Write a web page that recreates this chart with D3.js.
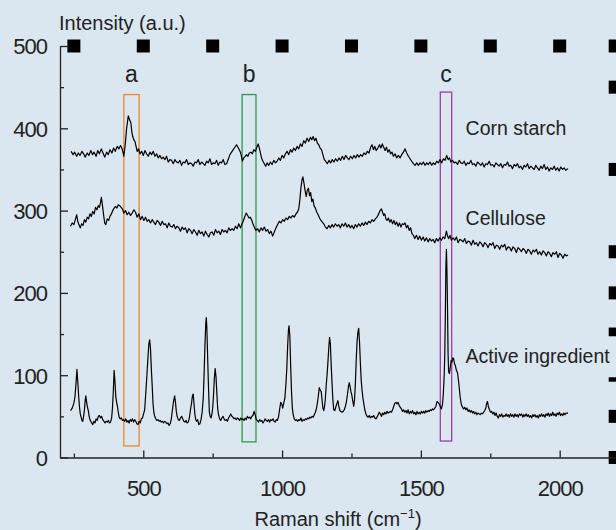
<!DOCTYPE html>
<html>
<head>
<meta charset="utf-8">
<script src="https://cdn.jsdelivr.net/npm/d3@7"></script>
<style>
  html, body { margin: 0; padding: 0; background: #dae6f0; }
  svg { display: block; }
</style>
</head>
<body>
<script>
// Raman spectra, [shift cm-1, intensity a.u.]
var cornStarch = [[240,372],[247,368],[253,371],[260,366],[266,370],[272,367],[279,372],[285,369],[291,365],[298,370],[304,367],[311,373],[317,368],[323,371],[330,366],[336,373],[342,369],[349,375],[355,370],[361,365],[368,371],[374,368],[380,374],[387,370],[393,376],[399,372],[406,378],[412,375],[418,379],[424,375],[430,366],[435,380],[440,400],[446,415],[451,410],[455,407],[459,395],[462,390],[466,386],[470,384],[474,378],[478,372],[483,375],[488,369],[494,372],[500,367],[506,373],[512,369],[518,366],[524,371],[530,368],[536,372],[542,366],[548,369],[554,364],[560,367],[566,363],[572,365],[578,362],[584,366],[590,359],[596,362],[602,361],[608,357],[614,362],[620,359],[626,358],[632,361],[638,355],[644,359],[650,358],[656,362],[662,356],[668,358],[674,357],[680,354],[686,359],[692,358],[698,362],[704,356],[710,359],[716,357],[722,355],[728,360],[734,358],[740,363],[746,356],[752,358],[758,357],[764,361],[770,355],[776,359],[782,358],[788,362],[794,356],[800,357],[806,362],[812,368],[818,371],[824,374],[830,377],[836,380],[841,377],[846,374],[851,370],[857,360],[862,364],[867,366],[872,368],[877,366],[882,370],[888,371],[893,369],[898,374],[904,372],[909,377],[914,381],[918,376],[922,370],[926,364],[931,360],[936,357],[941,354],[946,358],[952,355],[958,359],[964,356],[970,361],[976,358],[982,360],[988,364],[994,361],[1000,367],[1006,364],[1012,369],[1018,372],[1024,368],[1030,374],[1036,371],[1042,376],[1048,373],[1054,378],[1060,375],[1066,381],[1072,378],[1078,385],[1084,382],[1090,388],[1096,384],[1102,389],[1107,386],[1112,390],[1117,385],[1122,388],[1127,382],[1132,380],[1137,376],[1142,374],[1147,368],[1152,362],[1157,360],[1163,357],[1169,361],[1175,358],[1181,362],[1187,359],[1193,363],[1199,360],[1205,364],[1211,361],[1217,366],[1223,362],[1229,367],[1235,364],[1241,362],[1247,366],[1253,363],[1259,367],[1265,364],[1271,368],[1277,365],[1283,368],[1289,366],[1295,370],[1301,368],[1307,372],[1313,370],[1319,377],[1324,380],[1329,374],[1334,378],[1339,373],[1345,376],[1351,380],[1356,376],[1361,381],[1366,377],[1371,373],[1376,377],[1381,371],[1386,374],[1391,369],[1396,371],[1401,366],[1407,369],[1413,364],[1419,367],[1425,364],[1431,368],[1437,371],[1443,375],[1449,370],[1455,366],[1461,363],[1467,360],[1473,357],[1479,355],[1485,358],[1491,355],[1497,358],[1503,356],[1509,359],[1515,355],[1521,358],[1527,356],[1533,359],[1539,355],[1545,358],[1551,356],[1557,360],[1563,358],[1569,362],[1575,358],[1581,363],[1587,361],[1593,367],[1598,362],[1603,364],[1608,359],[1614,361],[1620,358],[1626,359],[1632,356],[1638,361],[1644,358],[1650,357],[1656,360],[1662,355],[1668,358],[1674,357],[1680,361],[1686,356],[1692,357],[1698,354],[1704,359],[1710,357],[1716,355],[1722,358],[1728,353],[1734,357],[1740,356],[1746,360],[1752,355],[1758,356],[1764,353],[1770,358],[1776,356],[1782,354],[1788,357],[1794,352],[1800,356],[1806,355],[1812,359],[1818,354],[1824,355],[1830,351],[1836,356],[1842,354],[1848,357],[1854,352],[1860,354],[1866,350],[1872,355],[1878,353],[1884,357],[1890,351],[1896,354],[1902,352],[1908,350],[1914,355],[1920,352],[1926,349],[1932,354],[1938,351],[1944,356],[1950,350],[1956,353],[1962,348],[1968,352],[1974,350],[1980,354],[1986,349],[1992,352],[1998,348],[2004,353],[2010,350],[2016,352],[2022,349],[2030,351]];

var cellulose = [[238,281],[244,285],[250,283],[256,290],[260,295],[264,287],[268,283],[273,279],[278,284],[283,282],[288,289],[293,286],[298,292],[303,290],[308,296],[313,293],[318,299],[323,296],[328,304],[333,301],[338,306],[342,304],[346,310],[349,316],[353,306],[357,295],[361,285],[365,283],[370,290],[375,288],[380,293],[385,296],[390,300],[395,303],[400,305],[405,303],[410,307],[415,306],[420,304],[425,302],[430,297],[436,300],[442,295],[448,298],[454,294],[460,297],[466,301],[472,298],[478,292],[484,296],[490,289],[496,293],[502,288],[508,292],[514,287],[520,289],[526,285],[532,289],[538,286],[544,283],[550,288],[556,286],[562,282],[568,287],[574,283],[580,284],[586,279],[592,285],[598,281],[604,280],[610,283],[616,278],[622,281],[628,279],[634,275],[640,280],[646,277],[652,279],[658,273],[664,278],[670,276],[676,272],[682,277],[688,274],[694,270],[700,276],[706,272],[712,274],[718,269],[724,275],[730,271],[736,268],[742,273],[748,274],[754,270],[760,277],[766,273],[772,275],[778,271],[784,277],[790,274],[796,276],[802,273],[808,279],[814,276],[820,278],[826,276],[832,281],[838,278],[844,284],[850,279],[856,284],[861,288],[866,293],[871,297],[876,294],[881,291],[886,292],[891,288],[896,283],[901,279],[906,276],[912,278],[918,274],[924,279],[930,276],[936,280],[942,275],[948,277],[954,272],[960,275],[966,269],[972,274],[978,279],[984,283],[990,287],[996,285],[1002,289],[1008,287],[1014,291],[1020,289],[1026,293],[1032,291],[1038,294],[1044,292],[1050,296],[1055,298],[1060,302],[1064,313],[1068,328],[1072,338],[1075,341],[1079,333],[1083,324],[1087,317],[1091,325],[1095,327],[1099,318],[1103,322],[1107,311],[1111,314],[1115,306],[1120,303],[1125,298],[1130,295],[1135,291],[1140,288],[1145,286],[1150,284],[1156,280],[1162,278],[1168,282],[1174,279],[1180,283],[1186,280],[1192,284],[1198,281],[1204,283],[1210,279],[1216,284],[1222,281],[1228,285],[1234,280],[1240,283],[1246,279],[1252,282],[1258,278],[1264,283],[1270,280],[1276,284],[1282,281],[1288,285],[1294,282],[1300,286],[1306,283],[1312,287],[1318,285],[1324,289],[1330,287],[1336,290],[1342,292],[1348,296],[1353,300],[1358,302],[1362,298],[1366,294],[1370,296],[1374,290],[1378,288],[1383,291],[1388,286],[1393,289],[1398,284],[1403,288],[1408,283],[1413,286],[1418,281],[1423,285],[1428,280],[1433,284],[1438,283],[1443,285],[1448,279],[1453,282],[1458,276],[1463,279],[1468,272],[1473,270],[1478,266],[1484,270],[1490,265],[1496,269],[1502,264],[1508,268],[1514,263],[1520,267],[1526,262],[1532,266],[1538,263],[1544,265],[1550,261],[1556,266],[1562,263],[1568,267],[1574,264],[1580,268],[1586,266],[1592,275],[1596,269],[1600,266],[1605,270],[1610,264],[1616,267],[1622,264],[1628,268],[1634,261],[1640,265],[1646,264],[1652,262],[1658,266],[1664,260],[1670,263],[1676,262],[1682,258],[1688,264],[1694,259],[1700,261],[1706,257],[1712,262],[1718,260],[1724,256],[1730,261],[1736,259],[1742,255],[1748,260],[1754,258],[1760,261],[1766,254],[1772,258],[1778,257],[1784,253],[1790,258],[1796,256],[1802,259],[1808,252],[1814,256],[1820,255],[1826,251],[1832,256],[1838,254],[1844,249],[1850,255],[1856,253],[1862,250],[1868,254],[1874,252],[1880,248],[1886,253],[1892,251],[1898,247],[1904,252],[1910,250],[1916,253],[1922,247],[1928,250],[1934,246],[1940,251],[1946,249],[1952,245],[1958,250],[1964,248],[1970,244],[1976,249],[1982,247],[1988,250],[1994,243],[2000,248],[2006,246],[2012,242],[2018,247],[2024,245],[2030,246]];

var activeIngredient = [[238,57],[244,60],[250,66],[254,74],[258,92],[261,107],[264,92],[267,76],[270,62],[273,53],[276,49],[279,45],[282,44],[285,50],[288,58],[291,70],[293,75],[296,67],[299,61],[302,57],[305,50],[308,46],[311,44],[314,42],[318,40],[322,44],[326,42],[330,47],[334,45],[338,50],[342,51],[346,48],[350,50],[354,46],[358,44],[362,42],[366,44],[370,43],[374,45],[378,42],[382,43],[386,48],[389,60],[392,80],[395,106],[398,92],[401,74],[404,67],[407,62],[410,55],[413,49],[417,47],[421,48],[425,45],[429,46],[433,44],[437,47],[441,43],[445,45],[449,42],[453,46],[457,44],[461,47],[465,43],[469,46],[473,44],[477,41],[481,40],[485,44],[489,42],[493,47],[497,48],[501,53],[505,58],[509,78],[513,100],[517,122],[520,138],[523,143],[526,132],[529,108],[532,88],[535,66],[538,55],[541,50],[545,47],[549,45],[553,46],[557,44],[561,45],[565,43],[569,44],[573,42],[577,44],[581,43],[585,41],[589,42],[593,39],[597,41],[601,47],[605,58],[609,68],[613,75],[616,67],[619,56],[622,50],[626,46],[630,45],[634,48],[638,50],[642,47],[646,44],[650,43],[654,45],[658,42],[662,43],[666,48],[670,58],[674,66],[677,75],[680,77],[683,64],[686,52],[689,46],[692,44],[696,46],[700,40],[704,41],[708,46],[712,55],[716,72],[719,100],[722,135],[725,162],[727,170],[729,158],[732,120],[735,85],[738,55],[741,50],[744,48],[747,52],[750,60],[753,76],[756,96],[759,108],[762,98],[765,78],[768,60],[771,52],[775,47],[779,45],[783,48],[787,50],[791,47],[795,45],[799,46],[803,44],[807,48],[811,50],[815,53],[819,50],[823,49],[827,47],[831,48],[835,46],[839,48],[843,47],[847,45],[851,48],[855,46],[859,47],[863,45],[867,48],[871,46],[875,50],[879,48],[883,49],[887,47],[891,50],[895,51],[899,56],[903,52],[907,46],[911,45],[915,43],[919,46],[923,44],[927,45],[931,42],[935,44],[939,47],[943,45],[947,44],[951,46],[955,43],[959,46],[963,45],[967,47],[971,44],[975,43],[979,46],[983,45],[987,49],[991,58],[995,67],[999,65],[1002,60],[1006,66],[1010,72],[1014,90],[1017,108],[1020,135],[1023,155],[1025,160],[1028,148],[1031,110],[1034,80],[1037,60],[1040,52],[1044,47],[1048,45],[1052,46],[1056,44],[1060,46],[1064,45],[1068,48],[1072,44],[1076,46],[1080,45],[1084,47],[1088,46],[1092,48],[1096,47],[1100,49],[1104,48],[1108,50],[1112,49],[1116,52],[1120,55],[1124,60],[1128,68],[1131,76],[1134,85],[1137,82],[1141,80],[1144,70],[1147,60],[1150,57],[1153,62],[1156,72],[1159,88],[1162,100],[1165,115],[1168,132],[1171,146],[1174,138],[1177,112],[1180,90],[1183,70],[1186,58],[1190,57],[1194,62],[1198,66],[1201,69],[1204,63],[1208,57],[1212,56],[1216,55],[1220,56],[1224,58],[1228,62],[1232,68],[1236,78],[1239,86],[1242,91],[1245,86],[1248,80],[1251,76],[1254,70],[1258,62],[1261,70],[1264,90],[1267,118],[1270,140],[1273,152],[1276,157],[1279,140],[1282,115],[1285,94],[1288,82],[1291,73],[1294,66],[1298,58],[1302,53],[1306,50],[1310,49],[1314,51],[1318,48],[1322,50],[1326,49],[1330,51],[1334,48],[1338,47],[1342,49],[1346,52],[1350,55],[1354,53],[1358,50],[1362,54],[1366,52],[1370,55],[1374,53],[1378,56],[1382,54],[1386,55],[1390,56],[1394,55],[1398,58],[1402,62],[1406,66],[1410,67],[1414,65],[1418,67],[1422,63],[1426,61],[1430,59],[1434,56],[1438,58],[1442,55],[1446,57],[1450,54],[1454,58],[1458,53],[1462,56],[1466,54],[1470,57],[1474,53],[1478,55],[1482,52],[1486,56],[1490,53],[1494,55],[1498,53],[1502,56],[1506,54],[1510,56],[1514,54],[1518,57],[1522,55],[1526,57],[1530,56],[1534,58],[1538,57],[1542,59],[1546,58],[1550,60],[1554,62],[1558,68],[1562,67],[1566,65],[1570,62],[1574,59],[1578,65],[1581,78],[1584,100],[1586,124],[1588,170],[1590,230],[1592,253],[1594,225],[1596,180],[1598,125],[1600,104],[1603,102],[1606,110],[1609,118],[1612,116],[1615,121],[1618,120],[1621,114],[1624,112],[1628,106],[1632,103],[1636,92],[1639,82],[1642,72],[1646,64],[1650,61],[1654,59],[1658,61],[1662,58],[1666,60],[1670,56],[1674,58],[1678,55],[1682,57],[1686,54],[1690,56],[1694,53],[1698,55],[1702,52],[1706,54],[1710,53],[1714,52],[1718,54],[1722,53],[1726,55],[1730,57],[1734,60],[1737,66],[1740,68],[1743,62],[1747,58],[1751,55],[1755,56],[1759,53],[1763,55],[1767,51],[1771,54],[1775,50],[1779,48],[1783,52],[1787,50],[1791,53],[1795,49],[1799,51],[1803,50],[1807,53],[1811,50],[1815,52],[1819,49],[1823,53],[1827,50],[1831,52],[1835,49],[1839,53],[1843,50],[1847,52],[1851,49],[1855,53],[1859,51],[1863,53],[1867,49],[1871,52],[1875,50],[1879,53],[1883,50],[1887,52],[1891,49],[1895,51],[1899,48],[1903,52],[1907,50],[1911,52],[1915,49],[1919,51],[1923,48],[1927,52],[1931,50],[1935,53],[1939,50],[1943,52],[1947,49],[1951,53],[1955,51],[1959,54],[1963,50],[1967,53],[1971,51],[1975,55],[1979,51],[1983,53],[1987,50],[1991,54],[1995,52],[1999,55],[2003,51],[2007,53],[2011,51],[2015,54],[2019,52],[2023,54],[2030,54]];

var seriesNames = ["Corn starch", "Cellulose", "Active ingredient"];
var seriesLabelAt = [[1661, 392], [1661, 283], [1661, 114.5]];

// highlighted bands: [label, from, to, low, high]
var bands = [["a", 430, 485, 14, 441], ["b", 856, 906, 19, 441], ["c", 1570, 1611, 20, 444]];
var bandColors = ["#f0852a", "#2f9a48", "#a03ca3"];

var yMajor = [0, 100, 200, 300, 400, 500];
var yMinor = [50, 150, 250, 350, 450];
var xMajor = [500, 1000, 1500, 2000];
var xMinor = [250, 750, 1250, 1750];

var width = 616, height = 530;
var bg = "#dae6f0";
var font = "'Liberation Sans', Arial, sans-serif";

var x = d3.scaleLinear().domain([200, 2200]).range([60, 615.2]);
var y = d3.scaleLinear().domain([0, 500]).range([457.5, 46]);

var svg = d3.select("body").append("svg")
    .attr("width", width)
    .attr("height", height)
    .style("background", bg);

// frame ticks drawn as heavy squares along top and right
var sq = 13;
var topMarks = xMinor.concat(xMajor).concat([2200]);
svg.append("g").selectAll("rect")
    .data(topMarks)
  .enter().append("rect")
    .attr("x", function(d) { return x(d) - sq / 2; })
    .attr("y", y(500) - sq / 2)
    .attr("width", sq).attr("height", sq)
    .attr("fill", "#000");

svg.append("g").selectAll("rect")
    .data(yMajor.concat(yMinor).filter(function(d) { return d < 500; }))
  .enter().append("rect")
    .attr("x", x(2200) - sq / 2)
    .attr("y", function(d) { return y(d) - sq / 2; })
    .attr("width", sq).attr("height", sq)
    .attr("fill", "#000");

// label backing boxes (hide the frame squares behind them)
svg.append("g").selectAll("rect")
    .data(seriesLabelAt)
  .enter().append("rect")
    .attr("x", function(d) { return x(d[0]) - 2; })
    .attr("y", function(d) { return y(d[1]) - 27; })
    .attr("width", 200)
    .attr("height", 41)
    .attr("fill", bg);

// axes
var yAxis = svg.append("g")
    .attr("transform", "translate(" + x(200) + ",0)")
    .call(d3.axisLeft(y).tickValues(yMajor).tickSize(-8).tickSizeOuter(0).tickPadding(13));
var yMinorAxis = svg.append("g")
    .attr("transform", "translate(" + x(200) + ",0)")
    .call(d3.axisLeft(y).tickValues(yMinor).tickSize(-4).tickSizeOuter(0).tickFormat(""));
var xAxis = svg.append("g")
    .attr("transform", "translate(0," + y(0) + ")")
    .call(d3.axisBottom(x).tickValues(xMajor).tickSize(-7).tickSizeOuter(0).tickFormat(d3.format("d")));
var xMinorAxis = svg.append("g")
    .attr("transform", "translate(0," + y(0) + ")")
    .call(d3.axisBottom(x).tickValues(xMinor).tickSize(-4).tickSizeOuter(0).tickFormat(""));

[yAxis, yMinorAxis, xAxis, xMinorAxis].forEach(function(g) {
  g.selectAll("path, line").attr("stroke", "#222").attr("stroke-width", 1.3);
  g.selectAll("text")
      .attr("fill", "#222")
      .style("font-family", font)
      .style("font-size", "22px")
      .style("letter-spacing", "-1px");
});
yMinorAxis.select(".domain").remove();
xMinorAxis.select(".domain").remove();
yAxis.selectAll("text").attr("dy", "0.36em");
xAxis.selectAll("text").attr("y", 38).attr("dy", 0);

// highlighted bands
svg.append("g").selectAll("rect")
    .data(bands)
  .enter().append("rect")
    .attr("x", function(d) { return x(d[1]); })
    .attr("y", function(d) { return y(d[4]); })
    .attr("width", function(d) { return x(d[2]) - x(d[1]); })
    .attr("height", function(d) { return y(d[3]) - y(d[4]); })
    .attr("fill", "none")
    .attr("stroke", function(d, i) { return bandColors[i]; })
    .attr("stroke-width", 1.3);

svg.append("g").selectAll("text")
    .data(bands)
  .enter().append("text")
    .attr("x", function(d) { return (x(d[1]) + x(d[2])) / 2; })
    .attr("y", 82)
    .attr("text-anchor", "middle")
    .attr("fill", "#222")
    .style("font-family", font)
    .style("font-size", "23px")
    .text(function(d) { return d[0]; });

// spectra
var line = d3.line()
    .x(function(d) { return x(d[0]); })
    .y(function(d) { return y(d[1]); });

svg.append("g").selectAll("path")
    .data([cornStarch, cellulose, activeIngredient])
  .enter().append("path")
    .attr("d", line)
    .attr("fill", "none")
    .attr("stroke", "#000")
    .attr("stroke-width", 1.2)
    .attr("stroke-linejoin", "round");

svg.append("g").selectAll("text")
    .data(seriesNames)
  .enter().append("text")
    .attr("x", function(d, i) { return x(seriesLabelAt[i][0]); })
    .attr("y", function(d, i) { return y(seriesLabelAt[i][1]); })
    .attr("fill", "#222")
    .style("font-family", font)
    .style("font-size", "19.5px")
    .text(function(d) { return d; });

// axis titles
svg.append("text")
    .attr("x", 59)
    .attr("y", 30)
    .attr("fill", "#222")
    .style("font-family", font)
    .style("font-size", "20px")
    .text("Intensity (a.u.)");

var xt = svg.append("text")
    .attr("x", (x(200) + width) / 2)
    .attr("y", 526)
    .attr("text-anchor", "middle")
    .attr("fill", "#222")
    .style("font-family", font)
    .style("font-size", "20px");
xt.append("tspan").text("Raman shift (cm");
xt.append("tspan").attr("dy", -8).style("font-size", "13px").text("\u22121");
xt.append("tspan").attr("dy", 8).text(")");
</script>
</body>
</html>
